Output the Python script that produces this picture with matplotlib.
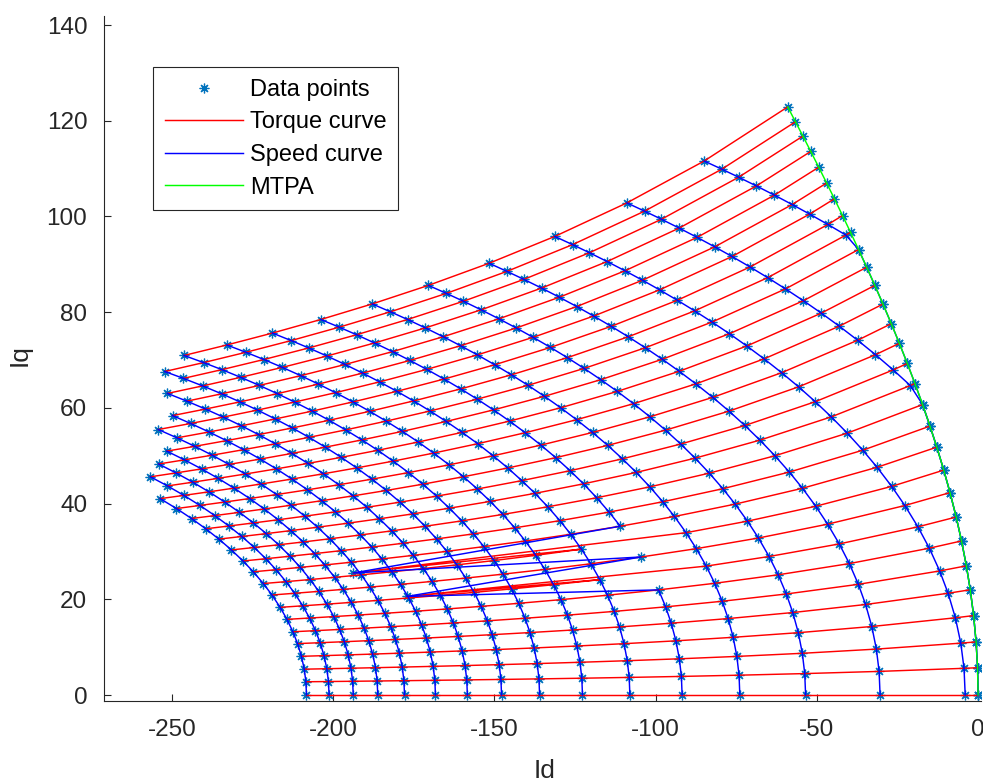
import numpy as np
import matplotlib
matplotlib.use("Agg")
import matplotlib.pyplot as plt

plt.rcParams['font.family'] = ['Liberation Sans', 'DejaVu Sans']
plt.rcParams['axes.unicode_minus'] = False

# Iq where each torque curve meets the MTPA line, lowest torque first
mtpa_iq = [0, 5.7, 11.1, 16.6, 22.0, 27.0, 32.2, 37.2, 42.3, 47.0,
           51.8, 56.2, 60.7, 65.1, 69.3, 73.5, 77.6, 81.7, 85.6, 89.4,
           93.1, 96.7, 100.2, 103.7, 107.0, 110.3, 113.6, 116.8, 119.8, 122.9]

# Id where each speed curve would cross Iq = 0 (the first two join the MTPA before)
speed_id0 = [62.8, 26.9, -4.0, -30.4, -53.5, -73.9, -91.8, -108.0, -122.7,
             -136.0, -147.8, -158.4, -168.3, -177.9, -186.2, -193.8, -201.3, -208.3]

# speed curves are ellipses round this Id, Iq axis = ratio * Id axis
ellipse_centre = -404.0
axis_ratio = 0.3275
# points beyond this current are missing
i_max = 262.0

# two points where the lookup went wrong: speed index, torque index, Id, Iq
bad_speed = [6, 6]
bad_torque = [9, 7]
bad_id = [-193.8, -177.2]
bad_iq = [25.5, 20.6]


c = -ellipse_centre
r = 1.0 / axis_ratio - 1.0
iq_m = np.array(mtpa_iq)
id_m = c / (2 * r) - np.sqrt((c / (2 * r)) ** 2 + iq_m ** 2)
torque = iq_m * (c - r * id_m)
radius = np.array(speed_id0) + c


def flux(x, y):
    return np.sqrt((x + c) ** 2 + (y / axis_ratio) ** 2)


# table: rows = torque levels, column 0 = MTPA, then one column per speed
n_t, n_s = len(iq_m), len(radius)
Id = np.full((n_t, n_s + 1), np.nan)
Iq = np.full((n_t, n_s + 1), np.nan)
Id[:, 0], Iq[:, 0] = id_m, iq_m
for k in range(n_t):
    for j, a in enumerate(radius):
        if flux(id_m[k], iq_m[k]) <= a:
            x = id_m[k]
        else:
            lo, hi = -c, id_m[k]
            for _ in range(60):
                mid = 0.5 * (lo + hi)
                if flux(mid, torque[k] / (c - r * mid)) > a:
                    hi = mid
                else:
                    lo = mid
            x = 0.5 * (lo + hi)
        y = torque[k] / (c - r * x)
        if np.hypot(x, y) <= i_max:
            Id[k, j + 1], Iq[k, j + 1] = x, y

for s, t, x, y in zip(bad_speed, bad_torque, bad_id, bad_iq):
    Id[t, s + 1], Iq[t, s + 1] = x, y

W, H = 983, 782
fig = plt.figure(figsize=(W / 100, H / 100), dpi=100)
ax = fig.add_axes([104 / W, 1 - 701 / H, (981 - 104) / W, (701 - 16) / H])

ax.plot(Id.ravel(), Iq.ravel(), ls='none', marker=(8, 2, 0), ms=7, mew=0.9,
        color='#0072BD', label='Data points')
for k in range(n_t):
    ax.plot(Id[k, :], Iq[k, :], color='#FF0000', lw=1.05,
            label='Torque curve' if k == 0 else None)
for j in range(1, n_s + 1):
    ax.plot(Id[:, j], Iq[:, j], color='#0000FF', lw=1.05,
            label='Speed curve' if j == 1 else None)
ax.plot(Id[:, 0], Iq[:, 0], color='#00FF00', lw=1.05, label='MTPA')

ax.set_xlim(-271.1, 0.9)
ax.set_ylim(-1.25, 141.9)
ax.set_xticks([-250, -200, -150, -100, -50, 0])
ax.set_yticks(np.arange(0, 141, 20))

ink = '#262626'
for side in ['top', 'right']:
    ax.spines[side].set_visible(False)
for side in ['left', 'bottom']:
    ax.spines[side].set_color(ink)
    ax.spines[side].set_linewidth(0.8)
ax.tick_params(direction='in', length=5, width=0.8, color=ink,
               labelcolor=ink, labelsize=17.5)
ax.tick_params(axis='x', pad=13)
ax.tick_params(axis='y', pad=12)

ax.set_xlabel('Id', fontsize=19, color=ink)
ax.set_ylabel('Iq', fontsize=19, color=ink)
ax.xaxis.set_label_coords((545 - 104) / 877, (701 - 759) / 685)
ax.yaxis.set_label_coords((32 - 104) / 877, (701 - 355) / 685)

leg = ax.legend(loc='upper left', bbox_to_anchor=(153 / W, 1 - 67 / H),
                bbox_transform=fig.transFigure, borderaxespad=0,
                fontsize=17, handlelength=3.3, handletextpad=0.3,
                borderpad=0.5, labelspacing=0.45, fancybox=False,
                framealpha=1, edgecolor=ink)
leg.get_frame().set_linewidth(0.8)

fig.savefig('out.png', dpi=100)
